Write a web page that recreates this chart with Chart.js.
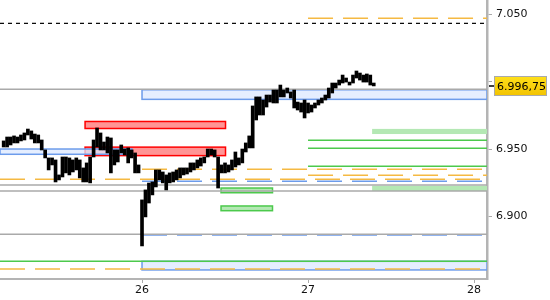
<!DOCTYPE html>
<html>
<head>
<meta charset="utf-8">
<style>
  html, body { margin: 0; padding: 0; background: #fff; }
  #wrap { width: 550px; height: 300px; }
</style>
<script src="https://cdn.jsdelivr.net/npm/chart.js@4.4.1/dist/chart.umd.min.js"></script>
</head>
<body>
<div id="wrap"><canvas id="chart" width="550" height="300"></canvas></div>
<script>
// 30 minute bars, time in days of the month
const firstBarDay = 25 + 4 / 24;
const barStepDays = 30 / 1440;

const barHighs = [
  6956.0, 6958.9, 6958.9, 6959.7, 6958.9, 6960.4, 6961.9, 6964.8, 6963.4, 6961.1,
  6960.4, 6956.7, 6949.3, 6943.4, 6943.4, 6941.9, 6930.8, 6944.1, 6944.1, 6943.4,
  6941.9, 6943.4, 6941.9, 6936.0, 6939.7, 6944.1, 6956.7, 6965.6, 6961.9, 6955.2,
  6958.9, 6958.2, 6949.3, 6949.3, 6953.0, 6950.0, 6950.8, 6949.3, 6947.1, 6938.2,
  6912.3, 6919.7, 6924.8, 6925.6, 6934.5, 6934.5, 6933.0, 6930.8, 6932.3, 6933.0,
  6934.5, 6936.0, 6936.0, 6936.0, 6939.7, 6939.7, 6941.9, 6943.4, 6944.1, 6950.0,
  6950.0, 6949.3, 6944.1, 6938.2, 6939.7, 6938.2, 6941.9, 6947.8, 6943.4, 6950.0,
  6954.5, 6959.7, 6981.9, 6988.6, 6988.6, 6986.3, 6990.0, 6990.0, 6993.7, 6993.7,
  6997.4, 6993.7, 6995.2, 6992.3, 6993.7, 6984.8, 6984.1, 6986.3, 6984.1, 6982.6,
  6984.1, 6986.3, 6987.8, 6990.0, 6995.2, 6998.9, 6998.9, 7001.1, 7004.8, 7002.6,
  6999.6, 7004.8, 7007.8, 7006.3, 7004.8, 7005.6, 7004.8, 6998.9
];
const barLows = [
  6951.5, 6951.5, 6953.0, 6954.5, 6954.5, 6956.0, 6956.7, 6960.4, 6957.4, 6954.5,
  6954.5, 6949.3, 6943.4, 6934.5, 6938.2, 6925.6, 6927.1, 6929.3, 6932.3, 6930.8,
  6933.0, 6934.5, 6928.6, 6925.6, 6925.6, 6924.9, 6944.1, 6951.5, 6949.3, 6949.3,
  6947.1, 6932.3, 6938.2, 6940.4, 6947.1, 6945.6, 6939.7, 6943.4, 6932.3, 6932.3,
  6878.2, 6899.7, 6910.0, 6916.0, 6921.9, 6927.1, 6924.9, 6919.7, 6924.9, 6925.6,
  6927.1, 6928.6, 6930.8, 6931.5, 6933.0, 6934.5, 6936.0, 6937.4, 6939.7, 6944.1,
  6945.6, 6944.1, 6921.1, 6932.3, 6932.3, 6933.0, 6934.5, 6936.7, 6938.2, 6939.7,
  6947.8, 6950.8, 6950.8, 6971.5, 6975.2, 6975.2, 6981.1, 6984.8, 6984.1, 6984.1,
  6988.6, 6988.6, 6991.5, 6987.8, 6980.4, 6978.9, 6977.4, 6973.0, 6976.7, 6977.4,
  6980.4, 6982.6, 6984.1, 6986.3, 6987.8, 6991.5, 6995.2, 6997.4, 6998.9, 6999.6,
  6997.4, 6998.9, 7002.6, 7001.1, 6999.6, 6999.6, 6997.4, 6996.75
];
const lastPrice = 6996.75;

const xMin = 25.1446, xMax = 28.078;
const yMin = 6853.7, yMax = 7060.4;
const xTicks = [26, 27, 28];
const yTicks = [6900, 6950, 7000, 7050];

// levels: [fromDay, toDay, price]
const grayLevels = [[xMin, xMax, 6994.3], [xMin, xMax, 6923.4], [xMin, xMax, 6918.9], [xMin, xMax, 6886.9]];
const greenLevels = [[27, xMax, 6956.5], [27, xMax, 6950.6], [27, xMax, 6937.2], [xMin, xMax, 6866.8]];
const orangeLevels = [[27, xMax, 7046.8], [26, xMax, 6935.0], [27, xMax, 6930.6], [xMin, xMax, 6927.6], [xMin, xMax, 6861.1]];
const blueLevels = [[26, xMax, 6926.1], [26, xMax, 6886.3]];
const blackLevels = [[xMin, xMax, 7043.1]];

// zones: [fromDay, toDay, low, high]
const redZones = [[25.657, 26.503, 6965.2, 6970.4], [25.657, 26.503, 6945.1, 6951.4]];
const blueZones = [[xMin, 25.94, 6946.1, 6950.0], [26, xMax, 6986.8, 6993.9], [26, xMax, 6860.4, 6866.8]];
const greenFillZones = [[27.386, xMax, 6961.1, 6964.9], [27.386, xMax, 6918.9, 6922.8]];
const greenBoxZones = [[26.476, 26.786, 6917.6, 6921.1], [26.476, 26.786, 6904.3, 6907.8]];

function fmtThousands(v) {
  return Math.round(v).toString().replace(/\B(?=(\d{3})+(?!\d))/g, '.');
}
function fmtPrice(v) {
  const whole = Math.floor(v);
  const dec = Math.round((v - whole) * 100).toString().padStart(2, '0');
  return fmtThousands(whole) + ',' + dec;
}

function levelSets(levels, color, width, dash) {
  return levels.map(l => ({
    type: 'line',
    data: [{ x: l[0], y: l[2] }, { x: l[1], y: l[2] }],
    borderColor: color,
    borderWidth: width,
    borderDash: dash,
    pointRadius: 0,
    pointHoverRadius: 0,
    order: 2
  }));
}

const zonePlugin = {
  id: 'zones',
  beforeDatasetsDraw(chart) {
    const { ctx, chartArea, scales: { x, y } } = chart;
    ctx.save();
    ctx.beginPath();
    ctx.rect(chartArea.left, chartArea.top, chartArea.right - chartArea.left, chartArea.bottom - chartArea.top);
    ctx.clip();
    const draw = (zones, fill, stroke) => {
      zones.forEach(z => {
        const x1 = x.getPixelForValue(z[0]), x2 = x.getPixelForValue(z[1]);
        const y1 = y.getPixelForValue(z[3]), y2 = y.getPixelForValue(z[2]);
        ctx.fillStyle = fill;
        ctx.fillRect(x1, y1, x2 - x1, y2 - y1);
        if (stroke) {
          ctx.strokeStyle = stroke;
          ctx.lineWidth = 1.5;
          ctx.strokeRect(x1, y1, x2 - x1, y2 - y1);
        }
      });
    };
    draw(greenFillZones, '#b4e8b4');
    draw(greenBoxZones, '#b4e8b4', '#4cc94c');
    draw(redZones, 'rgba(255,130,130,0.85)', '#ff0000');
    draw(blueZones, 'rgba(220,232,255,0.75)', '#6d9ceb');
    ctx.restore();
  }
};

const priceLabelPlugin = {
  id: 'priceLabel',
  afterDraw(chart) {
    const { ctx, chartArea, scales: { y } } = chart;
    const py = Math.round(y.getPixelForValue(lastPrice));
    ctx.save();
    ctx.strokeStyle = '#000';
    ctx.lineWidth = 1.5;
    ctx.beginPath();
    ctx.moveTo(chartArea.right + 2, py);
    ctx.lineTo(chartArea.right + 7, py);
    ctx.stroke();
    const bx = chartArea.right + 7, bw = 53, bh = 20;
    const g = ctx.createLinearGradient(0, py - bh / 2, 0, py + bh / 2);
    g.addColorStop(0, '#ffe01a');
    g.addColorStop(1, '#f2c200');
    ctx.fillStyle = g;
    ctx.fillRect(bx, py - bh / 2, bw, bh);
    ctx.strokeStyle = '#aaaaaa';
    ctx.lineWidth = 1;
    ctx.strokeRect(bx + 0.5, py - bh / 2 + 0.5, bw - 1, bh - 1);
    ctx.fillStyle = '#000';
    ctx.font = '11px "DejaVu Sans"';
    ctx.textBaseline = 'middle';
    ctx.fillText(fmtPrice(lastPrice), bx + 3, py + 1);
    ctx.restore();
  }
};

const datasets = [
  {
    type: 'bar',
    data: barHighs.map((h, i) => ({ x: firstBarDay + i * barStepDays, y: [barLows[i], h] })),
    backgroundColor: '#000',
    borderWidth: 0,
    barThickness: 3,
    grouped: false,
    order: 1
  },
  ...levelSets(grayLevels, '#aaaaaa', 1.5, []),
  ...levelSets(greenLevels, '#4cc94c', 1.5, []),
  ...levelSets(orangeLevels, '#f5b942', 1.5, [25, 10]),
  ...levelSets(blueLevels, '#6d9ceb', 1.5, [25, 10]),
  ...levelSets(blackLevels, '#000', 1.2, [4, 4])
];

new Chart(document.getElementById('chart'), {
  type: 'bar',
  data: { datasets },
  options: {
    responsive: false,
    animation: false,
    layout: { padding: 0, autoPadding: false },
    plugins: { legend: { display: false }, tooltip: { enabled: false } },
    scales: {
      x: {
        type: 'linear',
        min: xMin,
        max: xMax,
        offset: false,
        afterBuildTicks: s => { s.ticks = xTicks.map(v => ({ value: v })); },
        afterFit: s => { s.height = 21; s.paddingLeft = 0; s.paddingRight = 0; },
        grid: { display: true, offset: false, drawOnChartArea: false, drawTicks: true, tickLength: 4, color: '#aaaaaa' },
        border: { display: true, color: '#b4b4b4', width: 2 },
        ticks: {
          padding: 1,
          color: '#111',
          maxRotation: 0,
          font: { family: 'DejaVu Sans', size: 11 },
          callback: v => String(v)
        }
      },
      y: {
        type: 'linear',
        position: 'right',
        min: yMin,
        max: yMax,
        afterBuildTicks: s => { s.ticks = yTicks.map(v => ({ value: v })); },
        afterFit: s => { s.width = 63; s.paddingTop = 0; s.paddingBottom = 0; },
        grid: { display: true, drawOnChartArea: false, drawTicks: true, tickLength: 5, color: '#aaaaaa' },
        border: { display: true, color: '#b4b4b4', width: 2.5 },
        ticks: {
          padding: 4,
          color: '#111',
          font: { family: 'DejaVu Sans', size: 11 },
          callback: v => fmtThousands(v)
        }
      }
    }
  },
  plugins: [zonePlugin, priceLabelPlugin]
});
</script>
</body>
</html>
